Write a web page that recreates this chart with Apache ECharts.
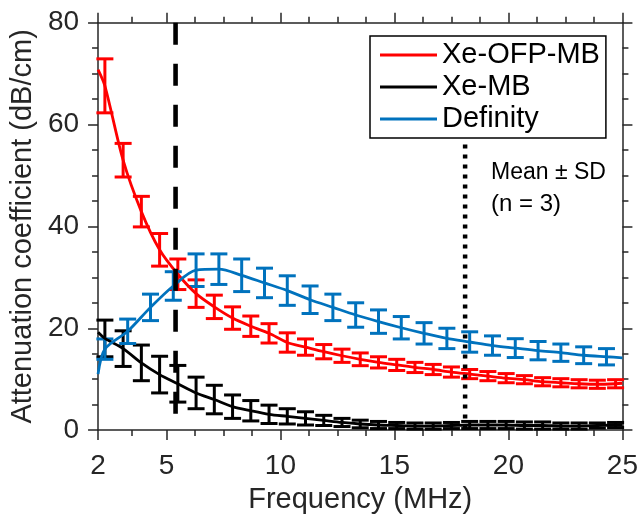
<!DOCTYPE html>
<html>
<head>
<meta charset="utf-8">
<script src="https://cdn.jsdelivr.net/npm/echarts@6/dist/echarts.min.js"></script>
<style>
  html, body { margin: 0; padding: 0; background: #fff; }
  #chart { width: 641px; height: 519px; }
</style>
</head>
<body>
<div id="chart"></div>
<script>
// Frequencies (MHz) at which the error bars are drawn
const ofpFreq = [2.3, 3.1, 3.9, 4.7, 5.5, 6.3, 7.1, 7.9, 8.7, 9.5, 10.3, 11.1, 11.9, 12.7, 13.5,
                 14.3, 15.1, 15.9, 16.7, 17.5, 18.3, 19.1, 19.9, 20.7, 21.5, 22.3, 23.1, 23.9, 24.7];
const mbFreq = ofpFreq;
const defFreq = [2.3, 3.3, 4.3, 5.3, 6.3, 7.3, 8.3, 9.3, 10.3, 11.3, 12.3, 13.3, 14.3, 15.3, 16.3,
                 17.3, 18.3, 19.3, 20.3, 21.3, 22.3, 23.3, 24.3];

// Xe-OFP-MB attenuation (dB/cm): mean and SD
const ofpMean = [67.6, 53.0, 42.9, 35.4, 30.6, 26.8, 24.2, 22.0, 20.4, 19.0, 17.2, 16.3, 15.4, 14.6, 13.9,
                 13.3, 12.8, 12.3, 11.9, 11.4, 11.0, 10.6, 10.2, 9.9, 9.5, 9.3, 9.1, 9.0, 9.1];
const ofpSD   = [5.3, 3.3, 3.0, 3.2, 3.0, 2.7, 2.3, 2.2, 2.0, 1.9, 1.9, 1.6, 1.4, 1.3, 1.25,
                 1.1, 1.1, 1.0, 1.0, 1.0, 0.9, 0.9, 0.9, 0.8, 0.8, 0.8, 0.8, 0.8, 0.8];
const ofpEnds = [70.8, 9.2];   // curve values at 2 and 25 MHz

// Xe-MB attenuation (dB/cm)
const mbMean = [18.0, 16.0, 13.2, 10.9, 9.1, 7.3, 6.0, 4.6, 3.8, 3.1, 2.7, 2.3, 1.9, 1.5, 1.2,
                1.0, 0.9, 0.8, 0.8, 0.9, 1.0, 1.0, 1.0, 0.9, 0.9, 0.8, 0.8, 0.9, 1.0];
const mbSD   = [3.6, 3.5, 3.5, 3.6, 3.6, 3.1, 2.8, 2.3, 2.0, 1.8, 1.5, 1.3, 1.0, 0.8, 0.75,
                0.7, 0.6, 0.6, 0.6, 0.6, 0.7, 0.7, 0.7, 0.7, 0.7, 0.6, 0.6, 0.5, 0.5];
const mbEnds = [19.2, 1.0];

// Definity attenuation (dB/cm)
const defMean = [15.9, 19.4, 24.1, 28.3, 31.4, 31.6, 30.4, 28.9, 27.4, 25.6, 24.1, 22.6, 21.3, 20.1, 19.0,
                 18.0, 17.3, 16.6, 16.1, 15.6, 15.2, 14.7, 14.4];
const defSD   = [2.0, 2.4, 2.6, 2.8, 3.2, 3.0, 3.2, 2.9, 2.9, 2.7, 2.6, 2.4, 2.3, 2.2, 2.1,
                 2.0, 2.0, 1.9, 1.85, 1.8, 1.7, 1.65, 1.6];
const defEnds = [11.0, 14.2];

// Axis ticks
const xMajorTicks = [2, 5, 10, 15, 20, 25];
const xMinorTicks = [3.5, 6.25, 7.5, 8.75, 11.25, 12.5, 13.75, 16.25, 17.5, 18.75, 21.25, 22.5, 23.75];
const xRange = [2, 25];
const yRange = [0, 80];

// Reference frequencies (MHz): dashed and dotted verticals, and the dotted line's top value
const dashedFreq = 5.4;
const dottedFreq = 18.1;
const dottedTop = 56.1;

const seriesNames = ['Xe-OFP-MB', 'Xe-MB', 'Definity'];
const seriesColors = ['#ff0000', '#000000', '#0072bd'];

const FONT = 'Liberation Sans, Arial, Helvetica, sans-serif';
const AXIS_COLOR = '#262626';

function curve(freq, mean, ends) {
  const pts = [[xRange[0], ends[0]]];
  freq.forEach((f, i) => pts.push([f, mean[i]]));
  pts.push([xRange[1], ends[1]]);
  return pts;
}
function bars(freq, mean, sd) {
  return freq.map((f, i) => [f, mean[i] - sd[i], mean[i] + sd[i]]);
}

// Vertical error bar with horizontal caps
function renderErrorBar(params, api) {
  const x = api.value(0);
  const top = api.coord([x, api.value(2)]);
  const bot = api.coord([x, api.value(1)]);
  const hw = 8.5;
  const style = { stroke: api.visual('color'), lineWidth: 3, fill: null };
  return {
    type: 'group',
    children: [
      { type: 'line', shape: { x1: top[0], y1: top[1], x2: bot[0], y2: bot[1] }, style: style },
      { type: 'line', shape: { x1: top[0] - hw, y1: top[1], x2: top[0] + hw, y2: top[1] }, style: style },
      { type: 'line', shape: { x1: bot[0] - hw, y1: bot[1], x2: bot[0] + hw, y2: bot[1] }, style: style }
    ]
  };
}

const axisLineStyle = { color: AXIS_COLOR, width: 1.5 };
const tickLine = { color: AXIS_COLOR, width: 1.5 };

function xAxisDef(position, ticks, len, withLine, withLabel) {
  return {
    type: 'value', position: position, min: xRange[0], max: xRange[1],
    axisLine: { show: withLine, onZero: false, lineStyle: axisLineStyle },
    axisTick: { show: true, customValues: ticks, length: len, inside: false, lineStyle: tickLine },
    axisLabel: withLabel ? {
      show: true, customValues: ticks, fontSize: 28, fontFamily: FONT, color: AXIS_COLOR, margin: 22
    } : { show: false },
    splitLine: { show: false }
  };
}
function yAxisDef(position, withLabel) {
  return {
    type: 'value', position: position, min: yRange[0], max: yRange[1], interval: 20,
    axisLine: { show: true, onZero: false, lineStyle: axisLineStyle },
    axisTick: { show: true, length: 10, inside: false, lineStyle: tickLine },
    minorTick: { show: true, splitNumber: 4, length: 6, lineStyle: tickLine },
    axisLabel: withLabel ? {
      show: true, fontSize: 28, fontFamily: FONT, color: AXIS_COLOR, margin: 19
    } : { show: false },
    splitLine: { show: false },
    minorSplitLine: { show: false }
  };
}

const xBottom = xAxisDef('bottom', xMajorTicks, 10, true, true);
xBottom.name = 'Frequency (MHz)';
xBottom.nameLocation = 'middle';
xBottom.nameGap = 54;
xBottom.nameTextStyle = { fontSize: 29, fontFamily: FONT, color: AXIS_COLOR };

const yLeft = yAxisDef('left', true);
yLeft.name = 'Attenuation coefficient (dB/cm)';
yLeft.nameLocation = 'middle';
yLeft.nameGap = 58;
yLeft.nameTextStyle = { fontSize: 29, fontFamily: FONT, color: AXIS_COLOR };

const lineSeries = (name, data, color) => ({
  name: name, type: 'line', data: data, xAxisIndex: 0, yAxisIndex: 0,
  showSymbol: false, symbol: 'none', smooth: 0.3,
  lineStyle: { color: color, width: 2.8 }, itemStyle: { color: color },
  z: 3, animation: false
});
const barSeries = (name, data, color) => ({
  name: name, type: 'custom', data: data, xAxisIndex: 0, yAxisIndex: 0,
  renderItem: renderErrorBar, encode: { x: 0, y: [1, 2] },
  itemStyle: { color: color }, z: 3, animation: false, clip: false
});

const chart = echarts.init(document.getElementById('chart'), null, { renderer: 'canvas' });
chart.setOption({
  animation: false,
  backgroundColor: '#ffffff',
  grid: { left: 97.5, right: 16, top: 22.7, bottom: 84, containLabel: false },
  xAxis: [
    xBottom,
    xAxisDef('bottom', xMinorTicks, 6, false, false),
    xAxisDef('top', xMajorTicks, 10, true, false),
    xAxisDef('top', xMinorTicks, 6, false, false)
  ],
  yAxis: [yLeft, yAxisDef('right', false)],
  legend: {
    data: seriesNames,
    orient: 'vertical', left: 370, top: 36,
    padding: [3, 6, 3, 10], itemGap: 0,
    itemWidth: 57, itemHeight: 3, icon: 'rect',
    borderColor: '#000', borderWidth: 1.5, backgroundColor: '#fff',
    textStyle: { fontSize: 29, fontFamily: FONT, color: '#000', lineHeight: 32 },
    selectedMode: false, z: 10
  },
  graphic: [
    { type: 'text', left: 491, top: 161, z: 5,
      style: { text: 'Mean ± SD', font: '23px ' + FONT, fill: '#000' } },
    { type: 'text', left: 491, top: 192, z: 5,
      style: { text: '(n = 3)', font: '24px ' + FONT, fill: '#000' } }
  ],
  series: [
    lineSeries(seriesNames[0], curve(ofpFreq, ofpMean, ofpEnds), seriesColors[0]),
    barSeries(seriesNames[0], bars(ofpFreq, ofpMean, ofpSD), seriesColors[0]),
    lineSeries(seriesNames[1], curve(mbFreq, mbMean, mbEnds), seriesColors[1]),
    barSeries(seriesNames[1], bars(mbFreq, mbMean, mbSD), seriesColors[1]),
    lineSeries(seriesNames[2], curve(defFreq, defMean, defEnds), seriesColors[2]),
    barSeries(seriesNames[2], bars(defFreq, defMean, defSD), seriesColors[2]),
    {
      name: 'dashed-ref', type: 'line', xAxisIndex: 0, yAxisIndex: 0,
      data: [[dashedFreq, yRange[1]], [dashedFreq, yRange[0]]],
      symbol: 'none', z: 4, animation: false, silent: true,
      lineStyle: { color: '#000', width: 4.6, type: [22, 19], cap: 'butt' }
    },
    {
      name: 'dotted-ref', type: 'line', xAxisIndex: 0, yAxisIndex: 0,
      data: [[dottedFreq, dottedTop], [dottedFreq, yRange[0]]],
      symbol: 'none', z: 4, animation: false, silent: true,
      lineStyle: { color: '#000', width: 4.5, type: [4, 6], cap: 'butt' }
    }
  ]
});
</script>
</body>
</html>
